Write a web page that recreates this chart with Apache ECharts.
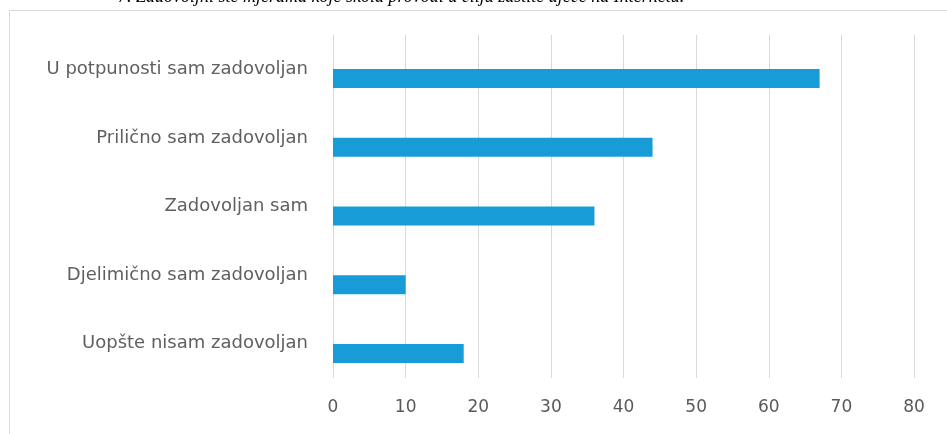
<!DOCTYPE html>
<html>
<head>
<meta charset="utf-8">
<script src="https://cdn.jsdelivr.net/npm/echarts@6/dist/echarts.min.js"></script>
<style>html,body{margin:0;padding:0;background:#fff;}#c{width:947px;height:434px;}</style>
</head>
<body>
<div id="c"></div>
<script>
const titleText = '7. Zadovoljni ste mjerama koje škola provodi u cilju zaštite djece na Internetu.';
const categories = ['U potpunosti sam zadovoljan', 'Prilično sam zadovoljan', 'Zadovoljan sam', 'Djelimično sam zadovoljan', 'Uopšte nisam zadovoljan'];
const values = [67, 44, 36, 10, 18];
const xMin = 0, xMax = 80, xInterval = 10;

const chart = echarts.init(document.getElementById('c'), null, {renderer: 'canvas'});
chart.setOption({
  animation: false,
  backgroundColor: '#fff',
  graphic: [
    {type: 'rect', shape: {x: 9.5, y: 10.5, width: 960, height: 500}, style: {fill: 'none', stroke: '#d9d9d9', lineWidth: 1}, z: 0},
    {type: 'text', left: 118, top: -12, style: {text: titleText, fontFamily: 'Liberation Serif', fontStyle: 'italic', fontSize: 18, fill: '#000'}, z: 5}
  ],
  grid: [
    {left: 333, right: 33, top: 35, bottom: 56},
    {left: 333, right: 33, top: 44, bottom: 46}
  ],
  xAxis: [
    {gridIndex: 0, type: 'value', min: xMin, max: xMax, interval: xInterval,
     axisLine: {show: false}, axisTick: {show: false},
     splitLine: {show: true, lineStyle: {color: '#d9d9d9', width: 1}},
     axisLabel: {margin: 21, fontFamily: 'DejaVu Sans', fontSize: 17, color: '#595959'}},
    {gridIndex: 1, type: 'value', min: xMin, max: xMax, interval: xInterval, show: false, splitLine: {show: false}}
  ],
  yAxis: [
    {gridIndex: 0, type: 'category', data: categories, inverse: true,
     axisLine: {show: false}, axisTick: {show: false}, splitLine: {show: false},
     axisLabel: {margin: 25, fontFamily: 'DejaVu Sans', fontSize: 18, color: '#5f5f5f'}},
    {gridIndex: 1, type: 'category', data: categories, inverse: true, show: false}
  ],
  series: [{
    type: 'bar', xAxisIndex: 1, yAxisIndex: 1, data: values, barWidth: 19,
    itemStyle: {color: '#189cd8'}, z: 3
  }]
});
</script>
</body>
</html>
